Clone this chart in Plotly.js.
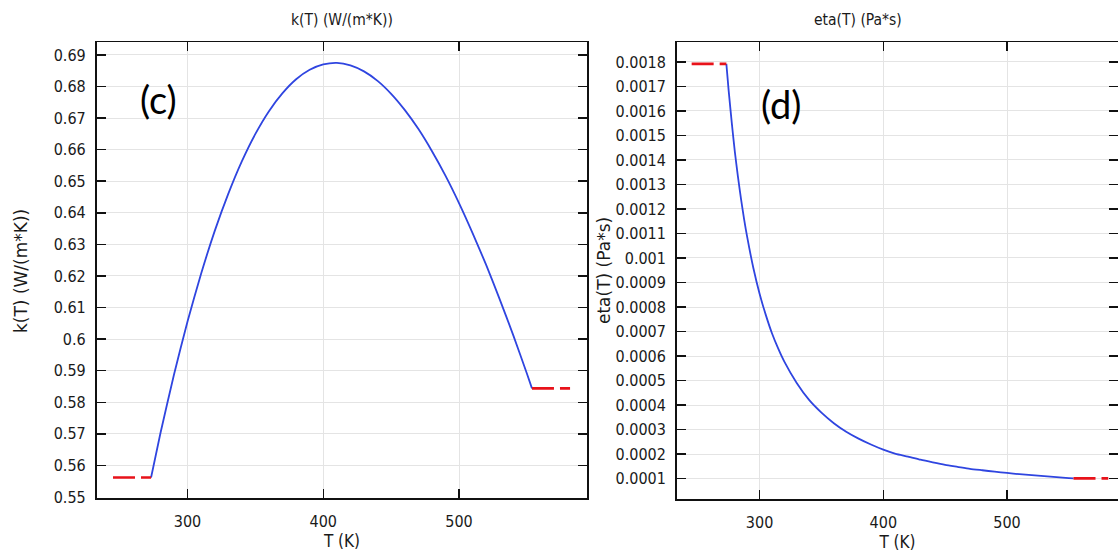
<!DOCTYPE html>
<html>
<head>
<meta charset="utf-8">
<script src="https://cdn.plot.ly/plotly-3.0.1.min.js"></script>
<style>html,body{margin:0;padding:0;background:#fff;}#chart{width:1118px;height:553px;}</style>
</head>
<body>
<div id="chart"></div>
<script>
// ---- data ----
var kT = [273.15, 280, 290, 300, 310, 320, 330, 340, 350, 360, 370, 380, 390, 400, 410, 420, 430, 440, 450, 460, 470, 480, 490, 500, 510, 520, 530, 540, 550, 553.75];
var kVal = [0.5562, 0.5701, 0.5887, 0.6056, 0.6207, 0.6342, 0.6460, 0.6563, 0.6650, 0.6722, 0.6779, 0.6823, 0.6853, 0.6870, 0.6875, 0.6867, 0.6848, 0.6818, 0.6777, 0.6726, 0.6666, 0.6596, 0.6518, 0.6431, 0.6336, 0.6235, 0.6126, 0.6012, 0.5891, 0.5844];
var kLowT = [245.09, 273.15];
var kLowVal = [0.5562, 0.5562];
var kHighT = [553.75, 581.81];
var kHighVal = [0.5844, 0.5844];

var etaT = [273.15, 275, 277.5, 280, 282.5, 285, 287.5, 290, 295, 300, 305, 310, 315, 320, 330, 340, 350, 360, 370, 380, 390, 400, 410, 420, 430, 440, 450, 460, 470, 480, 490, 500, 510, 520, 530, 540, 550, 553.75];
var etaVal = [0.001792, 0.001683, 0.001552, 0.001433, 0.001332, 0.001240, 0.001158, 0.001085, 0.000958, 0.000854, 0.000768, 0.000693, 0.000631, 0.000577, 0.000490, 0.000421, 0.000369, 0.000326, 0.000291, 0.000263, 0.000239, 0.000218, 0.000201, 0.000190, 0.000177, 0.000166, 0.000156, 0.000148, 0.000140, 0.000134, 0.000128, 0.000123, 0.000118, 0.000114, 0.000110, 0.000106, 0.000102, 0.000101];
var etaLowT = [245.09, 273.15];
var etaLowVal = [0.001792, 0.001792];
var etaHighT = [553.75, 581.81];
var etaHighVal = [0.000101, 0.000101];

var xTicks = [300, 400, 500];
var kTicks = [0.55, 0.56, 0.57, 0.58, 0.59, 0.6, 0.61, 0.62, 0.63, 0.64, 0.65, 0.66, 0.67, 0.68, 0.69];
var kTickText = ["0.55", "0.56", "0.57", "0.58", "0.59", "0.6", "0.61", "0.62", "0.63", "0.64", "0.65", "0.66", "0.67", "0.68", "0.69"];
var etaTicks = [0.0001, 0.0002, 0.0003, 0.0004, 0.0005, 0.0006, 0.0007, 0.0008, 0.0009, 0.001, 0.0011, 0.0012, 0.0013, 0.0014, 0.0015, 0.0016, 0.0017, 0.0018];
var etaTickText = ["0.0001", "0.0002", "0.0003", "0.0004", "0.0005", "0.0006", "0.0007", "0.0008", "0.0009", "0.001", "0.0011", "0.0012", "0.0013", "0.0014", "0.0015", "0.0016", "0.0017", "0.0018"];

var plotTitles = ["k(T) (W/(m*K))", "eta(T) (Pa*s)"];
var yTitles = ["k(T) (W/(m*K))", "eta(T) (Pa*s)"];
var xTitle = "T (K)";
var panelLabels = ["(c)", "(d)"];

// ---- styling ----
var condensed = "DejaVu Sans Condensed, Liberation Sans Narrow, DejaVu Sans, sans-serif";
var tickFont = {family: condensed, size: 16, color: "#1a1a1a"};
var blue = "#2f45e0";
var red = "#e8121a";

function redLine(x, y, xa, ya) {
  return {x: x, y: y, xaxis: xa, yaxis: ya, mode: "lines", line: {color: red, width: 2.6, dash: "22px,6px"}, hoverinfo: "skip"};
}
function blueLine(x, y, xa, ya) {
  return {x: x, y: y, xaxis: xa, yaxis: ya, mode: "lines", line: {color: blue, width: 1.8, shape: "spline", smoothing: 0.6}, hoverinfo: "skip"};
}

var traces = [
  blueLine(kT, kVal, "x", "y"),
  redLine(kLowT, kLowVal, "x", "y"),
  redLine(kHighT, kHighVal, "x", "y"),
  blueLine(etaT, etaVal, "x2", "y2"),
  redLine(etaLowT, etaLowVal, "x2", "y2"),
  redLine(etaHighT, etaHighVal, "x2", "y2")
];

function xAxis(domain, range, anchor) {
  return {
    domain: domain, range: range, anchor: anchor,
    tickvals: xTicks, ticks: "inside", ticklen: 9, tickwidth: 1.5, tickcolor: "#111",
    showline: true, linecolor: "#111", linewidth: 1.8, mirror: "ticks",
    showgrid: true, gridcolor: "#e4e4e4", gridwidth: 1, zeroline: false,
    tickfont: tickFont, ticklabelstandoff: 8,
    title: {text: xTitle, font: {family: condensed, size: 17, color: "#1a1a1a"}, standoff: 0}
  };
}
function yAxis(domain, range, anchor, vals, text) {
  return {
    domain: domain, range: range, anchor: anchor,
    tickvals: vals, ticktext: text, ticks: "inside", ticklen: 9, tickwidth: 1.5, tickcolor: "#111",
    showline: true, linecolor: "#111", linewidth: 1.8, mirror: "ticks",
    showgrid: true, gridcolor: "#e4e4e4", gridwidth: 1, zeroline: false,
    tickfont: tickFont, ticklabelstandoff: 6
  };
}

var yTitleFont = {family: "DejaVu Sans, sans-serif", size: 17, color: "#1a1a1a"};
var titleFont = {family: condensed, size: 15.5, color: "#1a1a1a"};

var layout = {
  width: 1118, height: 553,
  margin: {l: 0, r: 0, t: 0, b: 0},
  paper_bgcolor: "#fff", plot_bgcolor: "#fff",
  showlegend: false,
  xaxis: xAxis([0.0865, 0.5253], [233.1, 594.5], "y"),
  yaxis: yAxis([0.0995, 0.9235], [0.5497, 0.6940], "x", kTicks, kTickText),
  xaxis2: xAxis([0.6055, 1.0], [233.2, 589.7], "y2"),
  yaxis2: yAxis([0.0971, 0.9235], [0.0000155, 0.00188], "x2", etaTicks, etaTickText),
  annotations: [
    {text: plotTitles[0], xref: "paper", yref: "paper", x: 342 / 1118, y: 1 - 20 / 553, xanchor: "center", yanchor: "middle", showarrow: false, font: titleFont},
    {text: plotTitles[1], xref: "paper", yref: "paper", x: 858 / 1118, y: 1 - 20 / 553, xanchor: "center", yanchor: "middle", showarrow: false, font: titleFont},
    {text: yTitles[0], xref: "paper", yref: "paper", x: 21 / 1118, y: 1 - 271 / 553, xanchor: "center", yanchor: "middle", textangle: -90, showarrow: false, font: yTitleFont},
    {text: yTitles[1], xref: "paper", yref: "paper", x: 604 / 1118, y: 1 - 271 / 553, xanchor: "center", yanchor: "middle", textangle: -90, showarrow: false, font: yTitleFont},
    {text: panelLabels[0], xref: "paper", yref: "paper", x: 158 / 1118, y: 1 - 99 / 553, xanchor: "center", yanchor: "middle", showarrow: false, font: {family: "Lato, Open Sans, sans-serif", size: 38, color: "#000"}},
    {text: panelLabels[1], xref: "paper", yref: "paper", x: 781 / 1118, y: 1 - 104 / 553, xanchor: "center", yanchor: "middle", showarrow: false, font: {family: "Lato, Open Sans, sans-serif", size: 38, color: "#000"}}
  ]
};

Plotly.newPlot("chart", traces, layout, {staticPlot: true, displayModeBar: false});
</script>
</body>
</html>
